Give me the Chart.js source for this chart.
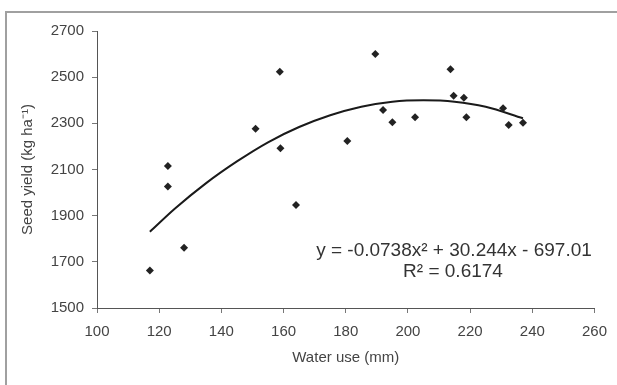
<!DOCTYPE html>
<html lang="en">
<head>
    <meta charset="UTF-8">
    <title>Seed yield vs water use</title>
    <script src="https://cdn.jsdelivr.net/npm/chart.js"></script>
    <style>
        body {
            margin: 0;
            padding: 0;
            background: #fff;
        }
        #wrap {
            width: 617px;
            height: 385px;
        }
    </style>
</head>
<body>
    <div id="wrap">
        <canvas id="yield-chart" width="617" height="385"></canvas>
    </div>

    <script>
        // observed points: water use (mm) and seed yield (kg/ha)
        const waterUse = [117, 122.8, 122.8, 128, 151, 158.8, 159, 164, 180.5, 189.5, 192, 195, 202.3, 213.7, 214.7, 218, 218.8, 230.6, 232.4, 237];
        const seedYield = [1662, 2115, 2026, 1761, 2277, 2524, 2192, 1946, 2224, 2600, 2358, 2305, 2326, 2534, 2419, 2411, 2326, 2365, 2293, 2303];

        // trend curve
        const trendX = [117, 125, 135, 145, 155, 165, 175, 185, 195, 205, 215, 225, 237];
        const trendY = [1830, 1930, 2040, 2135, 2218, 2284, 2335, 2372, 2394, 2400, 2394, 2372, 2322];

        const xTicks = [100, 120, 140, 160, 180, 200, 220, 240, 260];
        const yTicks = [1500, 1700, 1900, 2100, 2300, 2500, 2700];

        const equationLines = ['y = -0.0738x² + 30.244x - 697.01', 'R² = 0.6174'];

        const labelFont = { family: "'Liberation Sans', Arial, sans-serif", size: 15 };

        // scanned frame round the chart and the equation text
        const extras = {
            id: 'extras',
            beforeDraw(chart) {
                const ctx = chart.ctx;
                ctx.save();
                ctx.fillStyle = '#fff';
                ctx.fillRect(0, 0, chart.width, chart.height);
                ctx.strokeStyle = '#a0a0a0';
                ctx.lineWidth = 2;
                ctx.beginPath();
                ctx.moveTo(6, chart.height);
                ctx.lineTo(6, 12);
                ctx.lineTo(chart.width, 12);
                ctx.stroke();
                ctx.restore();
            },
            afterDraw(chart) {
                const ctx = chart.ctx;
                ctx.save();
                ctx.fillStyle = '#333';
                ctx.font = "19px 'Liberation Sans', Arial, sans-serif";
                ctx.textAlign = 'center';
                ctx.textBaseline = 'middle';
                ctx.fillText(equationLines[0], 454, 251);
                ctx.fillText(equationLines[1], 453, 272);
                ctx.restore();
            }
        };

        const ctx = document.getElementById('yield-chart').getContext('2d');
        new Chart(ctx, {
            type: 'scatter',
            data: {
                datasets: [{
                    label: 'Seed yield',
                    data: waterUse.map((x, i) => ({ x: x, y: seedYield[i] })),
                    pointStyle: 'rectRot',
                    pointRadius: 4,
                    backgroundColor: '#222',
                    borderColor: '#222',
                    borderWidth: 0
                }, {
                    label: 'Poly. trend',
                    type: 'line',
                    data: trendX.map((x, i) => ({ x: x, y: trendY[i] })),
                    borderColor: '#1a1a1a',
                    borderWidth: 2,
                    pointRadius: 0,
                    fill: false,
                    cubicInterpolationMode: 'monotone'
                }]
            },
            options: {
                responsive: false,
                animation: false,
                layout: {
                    padding: { top: 31, right: 18, left: 0, bottom: 0 }
                },
                plugins: {
                    legend: { display: false },
                    tooltip: { enabled: false }
                },
                scales: {
                    x: {
                        type: 'linear',
                        min: xTicks[0],
                        max: xTicks[xTicks.length - 1],
                        afterBuildTicks: (scale) => { scale.ticks = xTicks.map(v => ({ value: v })); },
                        afterFit: (scale) => { scale.height = 77; },
                        grid: { drawOnChartArea: false, drawTicks: true, tickLength: 5, color: '#777' },
                        border: { color: '#555', width: 1 },
                        ticks: { color: '#444', font: labelFont, padding: 10, maxRotation: 0, callback: (v) => String(v) },
                        title: {
                            display: true,
                            text: 'Water use (mm)',
                            color: '#444',
                            font: labelFont,
                            padding: { bottom: 18 }
                        }
                    },
                    y: {
                        type: 'linear',
                        min: yTicks[0],
                        max: yTicks[yTicks.length - 1],
                        afterBuildTicks: (scale) => { scale.ticks = yTicks.map(v => ({ value: v })); },
                        afterFit: (scale) => { scale.width = 97; },
                        grid: { drawOnChartArea: false, drawTicks: true, tickLength: 5, color: '#777' },
                        border: { color: '#555', width: 1 },
                        ticks: { color: '#444', font: labelFont, padding: 8, callback: (v) => String(v) },
                        title: {
                            display: true,
                            text: 'Seed yield (kg ha⁻¹)',
                            color: '#444',
                            font: labelFont,
                            padding: { top: 19 }
                        }
                    }
                }
            },
            plugins: [extras]
        });
    </script>
</body>
</html>
